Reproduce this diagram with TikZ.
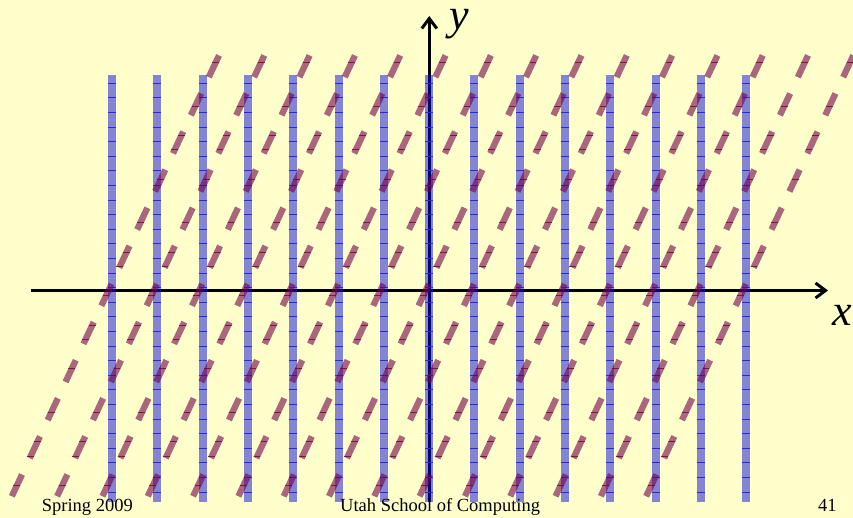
\documentclass[tikz,border=0pt]{standalone}
\usepackage{fontspec}
\setmainfont{Liberation Serif}
\usetikzlibrary{arrows.meta}
\definecolor{bg}{RGB}{255,255,204}
\definecolor{barblue}{RGB}{10,10,220}
\definecolor{tickblue}{RGB}{40,40,230}
\definecolor{dashred}{RGB}{113,0,72}
\definecolor{tickred}{RGB}{120,0,50}
\tikzset{
  axisline/.style={line width=3pt, -{Straight Barb[length=10pt,width=15pt]}},
  bar/.style={fill=barblue, fill opacity=0.5, draw=none},
  btick/.style={draw=tickblue, line width=1.1pt},
  rdash/.style={draw=dashred, draw opacity=0.6, line width=6.3pt},
  rtick/.style={draw=tickred, line width=1pt, draw opacity=0.8},
  lbl/.style={font=\fontsize{44}{44}\selectfont\itshape, inner sep=0pt, anchor=base},
  foot/.style={font=\fontsize{18.5}{20}\selectfont, inner sep=0pt, anchor=base west},
}
\begin{document}
\begin{tikzpicture}[x=1pt,y=-1pt]
\fill[bg] (0,0) rectangle (853,518);
\useasboundingbox (0,0) rectangle (853,518);
% axes
\coordinate (xs) at (31,290.5);
\coordinate (xe) at (828,290.5);
\coordinate (ys) at (429.3,502);
\coordinate (ye) at (429.3,16);
\draw[axisline] (xs) -- (xe);
\draw[axisline] (ys) -- (ye);
% blue bars with ticks
\foreach \i in {0,...,14}{
  \pgfmathsetmacro\bx{112+45.31*\i}
  \fill[bar] (\bx-4,75) rectangle (\bx+4,502);
  \foreach \m in {0,...,28}{
    \pgfmathsetmacro\ty{83.3+14.6*\m}
    \draw[btick] (\bx-4,\ty) -- (\bx+4,\ty);
  }
}
% red sheared dashed lines
\foreach \i in {0,...,14}{
  \pgfmathsetmacro\cx{108.3+45.31*\i}
  \foreach \k in {0,...,11}{
    \pgfmathsetmacro\yc{66.3+38.1*\k}
    \pgfmathsetmacro\xc{\cx+0.47*(291-\yc)}
    \draw[rdash] (\xc-5.1,\yc+10.86) -- (\xc+5.1,\yc-10.86);
  }
  \foreach \m in {0,...,30}{
    \pgfmathsetmacro\ty{62.3+14.6*\m}
    \pgfmathsetmacro\dd{abs(\ty-66.3-38.1*round((\ty-66.3)/38.1))}
    \pgfmathsetmacro\okk{and(\dd<10,\ty<496)}
    \ifdim\okk pt>0.5pt
      \pgfmathsetmacro\tx{\cx+0.47*(291-\ty)}
      \draw[rtick] (\tx-3.4,\ty) -- (\tx+3.4,\ty);
    \fi
  }
}
% labels
\node[lbl] (ylab) at (459,30) {y};
\node[lbl] (xlab) at (842,325) {x};
\node[foot] (spring) at (41.7,511.7) {Spring 2009};
\node[foot] (utah) at (340,511.7) {Utah School of Computing};
\node[foot] (page) at (818,511.7) {41};
\end{tikzpicture}
\end{document}
